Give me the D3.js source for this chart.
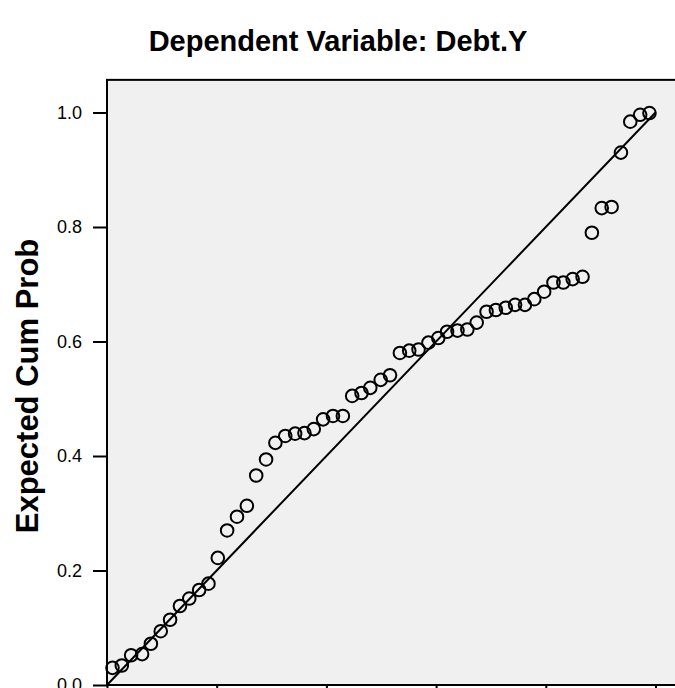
<!DOCTYPE html>
<html>
<head>
<meta charset="utf-8">
<script src="https://cdn.jsdelivr.net/npm/d3@7"></script>
<style>
  body { margin: 0; background: #fff; }
  svg { display: block; font-family: "Liberation Sans", Arial, sans-serif; }
</style>
</head>
<body>
<div id="chart"></div>
<script>
var observed = [0.010, 0.027, 0.044, 0.064, 0.080, 0.098, 0.115, 0.133, 0.150, 0.168,
  0.185, 0.202, 0.219, 0.237, 0.255, 0.272, 0.290, 0.307, 0.325, 0.343,
  0.360, 0.377, 0.394, 0.412, 0.430, 0.447, 0.464, 0.480, 0.499, 0.516,
  0.534, 0.551, 0.568, 0.586, 0.604, 0.620, 0.639, 0.657, 0.674, 0.692,
  0.709, 0.727, 0.744, 0.762, 0.779, 0.797, 0.814, 0.832, 0.849, 0.867,
  0.884, 0.902, 0.920, 0.937, 0.954, 0.972, 0.989];
var expected = [0.030, 0.034, 0.052, 0.054, 0.072, 0.094, 0.114, 0.138, 0.151, 0.166,
  0.177, 0.222, 0.270, 0.294, 0.313, 0.366, 0.394, 0.423, 0.435, 0.439,
  0.440, 0.447, 0.464, 0.470, 0.470, 0.505, 0.510, 0.519, 0.533, 0.541,
  0.580, 0.584, 0.586, 0.598, 0.606, 0.617, 0.619, 0.621, 0.633, 0.652,
  0.655, 0.659, 0.664, 0.664, 0.674, 0.687, 0.703, 0.703, 0.709, 0.713,
  0.790, 0.833, 0.835, 0.930, 0.984, 0.996, 0.999];
var yTicks = [0.0, 0.2, 0.4, 0.6, 0.8, 1.0];
var xTicks = [0.0, 0.2, 0.4, 0.6, 0.8, 1.0];
var refLine = [0, 1];

var CONFIG = {
  width: 675,
  height: 688,
  top: 1.057
};

var points = observed.map((d, i) => ({ x: d, y: expected[i] }));

var xScale = d3.scaleLinear().domain([0, CONFIG.top]).range([107, 107 + CONFIG.top * 548.5]);
var yScale = d3.scaleLinear().domain([0, CONFIG.top]).range([685, 685 - CONFIG.top * 572.5]);

var svg = d3.select("#chart")
  .append("svg")
  .attr("width", CONFIG.width)
  .attr("height", CONFIG.height);

// title
svg.append("text")
  .attr("x", 338)
  .attr("y", 51)
  .attr("text-anchor", "middle")
  .style("font-size", "29px")
  .style("font-weight", "bold")
  .text("Dependent Variable: Debt.Y");

// plot background + frame
svg.append("rect")
  .attr("x", xScale(0))
  .attr("y", yScale(CONFIG.top))
  .attr("width", xScale(CONFIG.top) - xScale(0))
  .attr("height", yScale(0) - yScale(CONFIG.top))
  .attr("fill", "#f0f0f0")
  .attr("stroke", "#000")
  .attr("stroke-width", 2);

// y axis
var yAxis = d3.axisLeft(yScale)
  .tickValues(yTicks)
  .tickFormat(d3.format(".1f"))
  .tickSize(14)
  .tickPadding(11);

var gy = svg.append("g")
  .attr("transform", "translate(" + xScale(0) + ",0)")
  .call(yAxis);
gy.select(".domain").remove();
gy.selectAll(".tick line").attr("stroke-width", 2);
gy.selectAll(".tick text")
  .style("font-size", "18px")
  .style("font-family", "Liberation Sans, Arial, sans-serif")
  .attr("fill", "#000");

// x axis (mostly below the visible area)
var xAxis = d3.axisBottom(xScale)
  .tickValues(xTicks)
  .tickFormat(d3.format(".1f"))
  .tickSize(14)
  .tickPadding(11);

var gx = svg.append("g")
  .attr("transform", "translate(0," + yScale(0) + ")")
  .call(xAxis);
gx.select(".domain").remove();
gx.selectAll(".tick line").attr("stroke-width", 2);
gx.selectAll(".tick text")
  .style("font-size", "18px")
  .style("font-family", "Liberation Sans, Arial, sans-serif")
  .attr("fill", "#000");

// y axis title
svg.append("text")
  .attr("transform", "translate(38,386) rotate(-90)")
  .attr("text-anchor", "middle")
  .style("font-size", "31px")
  .style("font-weight", "bold")
  .text("Expected Cum Prob");

// reference diagonal
svg.append("line")
  .attr("x1", xScale(refLine[0]))
  .attr("y1", yScale(refLine[0]))
  .attr("x2", xScale(refLine[1]))
  .attr("y2", yScale(refLine[1]))
  .attr("stroke", "#000")
  .attr("stroke-width", 2);

// points
svg.append("g")
  .selectAll("circle")
  .data(points)
  .enter().append("circle")
  .attr("cx", d => xScale(d.x))
  .attr("cy", d => yScale(d.y))
  .attr("r", 6.3)
  .attr("fill", "none")
  .attr("stroke", "#000")
  .attr("stroke-width", 2);
</script>
</body>
</html>
